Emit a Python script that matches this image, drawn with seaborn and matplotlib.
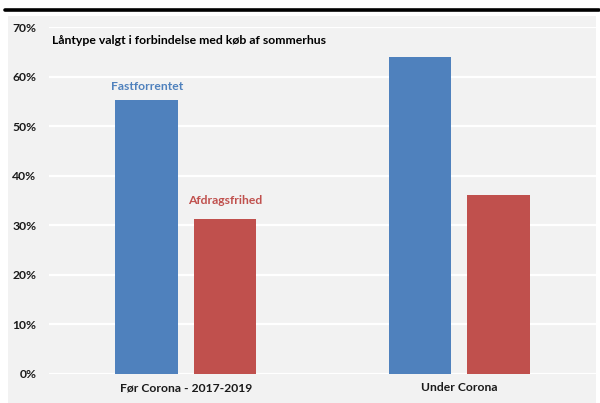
import matplotlib
matplotlib.use("Agg")
import matplotlib.pyplot as plt
import seaborn as sns
import pandas as pd
from matplotlib.ticker import FuncFormatter
from matplotlib.patches import Rectangle
from matplotlib.lines import Line2D

periods = ["Før Corona - 2017-2019", "Under Corona"]
series = ["Fastforrentet", "Afdragsfrihed"]
fastforrentet = [0.553, 0.640]
afdragsfrihed = [0.313, 0.361]
yticks = [0, 0.1, 0.2, 0.3, 0.4, 0.5, 0.6, 0.7]
title = "Låntype valgt i forbindelse med køb af sommerhus"

df = pd.DataFrame({
    "period": periods * 2,
    "type": [series[0]] * 2 + [series[1]] * 2,
    "value": fastforrentet + afdragsfrihed,
})

sns.set_theme(style="white")
plt.rcParams["font.family"] = ["Lato", "DejaVu Sans"]
plt.rcParams["font.weight"] = "bold"

W, H = 600, 403
fig = plt.figure(figsize=(6, 4.03), dpi=100)
fig.patch.set_facecolor("white")
fig.patches.append(Rectangle((8 / W, 0), (596 - 8) / W, (H - 16) / H,
                             transform=fig.transFigure, facecolor="#f2f2f2",
                             edgecolor="none", zorder=-5))
fig.lines.append(Line2D([5 / W, 599 / W], [1 - 10 / H, 1 - 10 / H],
                        transform=fig.transFigure, color="black", lw=2.6))

ax = fig.add_axes([49 / W, 29 / H, (596 - 49) / W, (374 - 27) / H])
ax.set_facecolor("none")
colors = {"Fastforrentet": "#4f81bd", "Afdragsfrihed": "#c0504d"}
sns.barplot(data=df, x="period", y="value", hue="type", palette=colors,
            saturation=1, width=0.572, gap=0.2, ax=ax, legend=False, zorder=3,
            edgecolor="none", linewidth=0)

ax.set_xlim(-0.5, 1.5)
ax.set_ylim(0, 0.7)
ax.set_yticks(yticks)
ax.yaxis.set_major_formatter(FuncFormatter(lambda v, p: f"{v*100:.0f}%"))
ax.grid(axis="y", color="white", lw=1.6, zorder=0)
ax.set_axisbelow(True)
for s in ax.spines.values():
    s.set_visible(False)
ax.set_xlabel("")
ax.set_ylabel("")
ax.tick_params(axis="both", length=0, labelsize=8.7, colors="#1a1a1a")
ax.tick_params(axis="y", pad=9)
ax.tick_params(axis="x", pad=6)

# series labels above the first group's bars
bars = ax.patches
label_colors = ["#4f81bd", "#c0504d"]
for i, name in enumerate(series):
    p = bars[i * 2]
    cx = p.get_x() + p.get_width() / 2
    ax.annotate(name, (cx, p.get_height()), xytext=(0, 6 + 3 * i), textcoords="offset points",
                ha="center", va="bottom", fontsize=8.7, fontweight="bold",
                color=label_colors[i])

fig.text(52 / W, 1 - 41 / H, title, ha="left", va="center", fontsize=8.8,
         fontweight="bold", color="black")

fig.savefig("out.png", dpi=100)
